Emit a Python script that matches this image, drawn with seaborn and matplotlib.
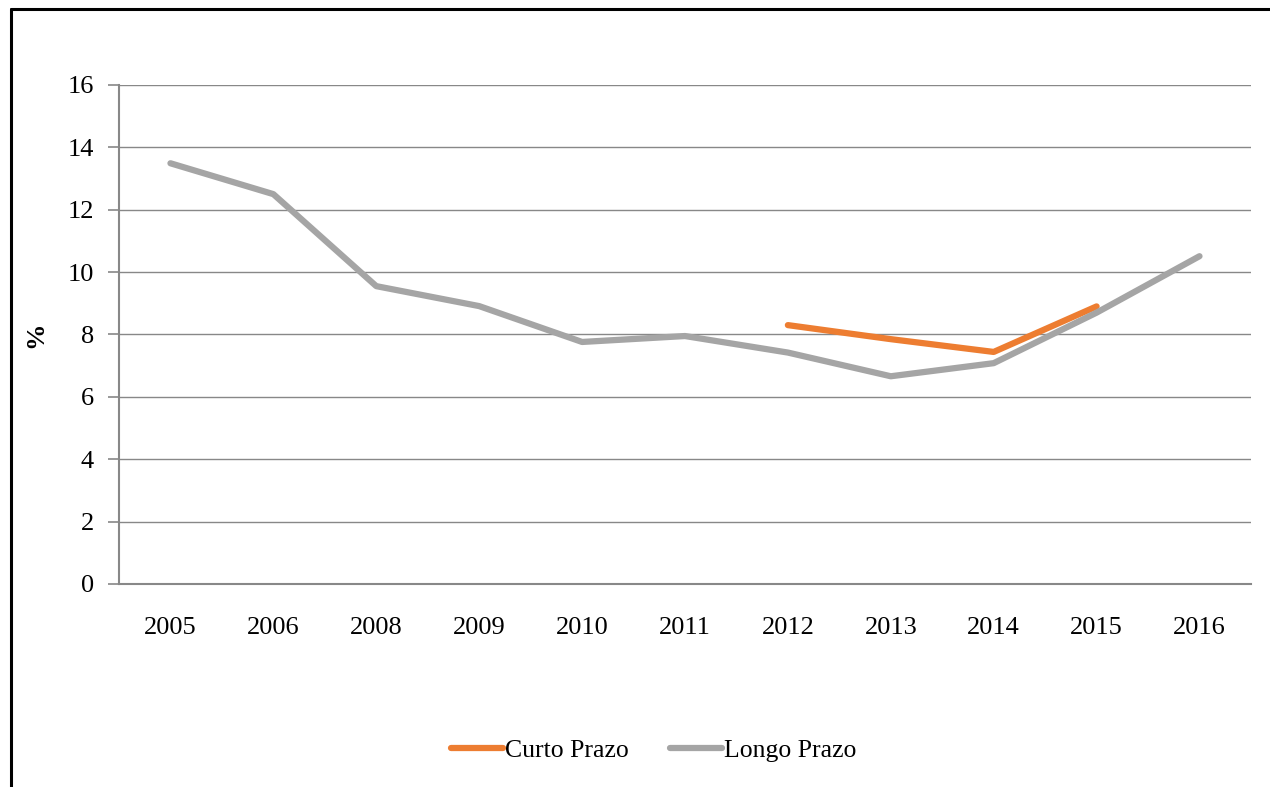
import numpy as np
import pandas as pd
import seaborn as sns
import matplotlib.pyplot as plt
from matplotlib.lines import Line2D


years = ["2005", "2006", "2008", "2009", "2010", "2011", "2012", "2013", "2014", "2015", "2016"]
curto_prazo = [np.nan, np.nan, np.nan, np.nan, np.nan, np.nan, 8.3, 7.85, 7.44, 8.9, np.nan]
longo_prazo = [13.49, 12.5, 9.55, 8.91, 7.76, 7.95, 7.42, 6.66, 7.08, 8.7, 10.51]

data = pd.DataFrame({
    "ano": years * 2,
    "valor": curto_prazo + longo_prazo,
    "serie": ["Curto Prazo"] * len(years) + ["Longo Prazo"] * len(years),
})

sns.set_style("white")
plt.rcParams["font.family"] = ["Liberation Serif", "DejaVu Serif"]
plt.rcParams["text.color"] = "black"
plt.rcParams["xtick.labelcolor"] = "black"
plt.rcParams["ytick.labelcolor"] = "black"
plt.rcParams["axes.labelcolor"] = "black"

fig = plt.figure(figsize=(12.7, 7.87), dpi=100)
ax = fig.add_axes([0.0937, 0.258, 0.8913, 0.634])

sns.lineplot(data=data, x="ano", y="valor", hue="serie",
             palette={"Curto Prazo": "#ED7D31", "Longo Prazo": "#A5A5A5"},
             linewidth=4.5, solid_capstyle="round", ax=ax, legend=False)

axis_color = "#888888"
ax.set_xlim(-0.5, len(years) - 0.5)
ax.set_ylim(0, 16)
ax.set_yticks(range(0, 17, 2))
ax.set_xticks(range(len(years)))
ax.set_xticklabels(years)
ax.set_xticks(np.arange(-0.5, len(years)), minor=True)
ax.tick_params(axis="x", which="major", length=0, pad=24, labelsize=19)
ax.tick_params(axis="x", which="minor", length=8, color=axis_color, width=1.2, direction="out")
ax.tick_params(axis="y", length=8, color=axis_color, width=1.2, direction="out", pad=10, labelsize=19, left=True)
ax.grid(axis="y", color=axis_color, linewidth=1.0)
ax.set_axisbelow(True)

for side in ["top", "right"]:
    ax.spines[side].set_visible(False)
for side in ["left", "bottom"]:
    ax.spines[side].set_color(axis_color)
    ax.spines[side].set_linewidth(1.5)

ax.set_xlabel("")
ax.set_ylabel("%", fontsize=19, fontweight="bold")
ax.yaxis.set_label_coords(-0.063, 0.5)

handles = [Line2D([], [], color="#ED7D31", linewidth=4.5, solid_capstyle="round"),
           Line2D([], [], color="#A5A5A5", linewidth=4.5, solid_capstyle="round")]
fig.legend(handles, ["Curto Prazo", "Longo Prazo"], loc="center", bbox_to_anchor=(0.515, 0.046),
           ncol=2, frameon=False, fontsize=18.5, handlelength=2.0, handletextpad=0.1, columnspacing=1.6)

# chart border, only top and left visible
fig.add_artist(Line2D([0.0087, 0.0087], [-0.01, 0.9886], color="black", linewidth=2.2, transform=fig.transFigure))
fig.add_artist(Line2D([0.0087, 1.01], [0.9886, 0.9886], color="black", linewidth=2.2, transform=fig.transFigure))

fig.savefig("out.png", dpi=100)
